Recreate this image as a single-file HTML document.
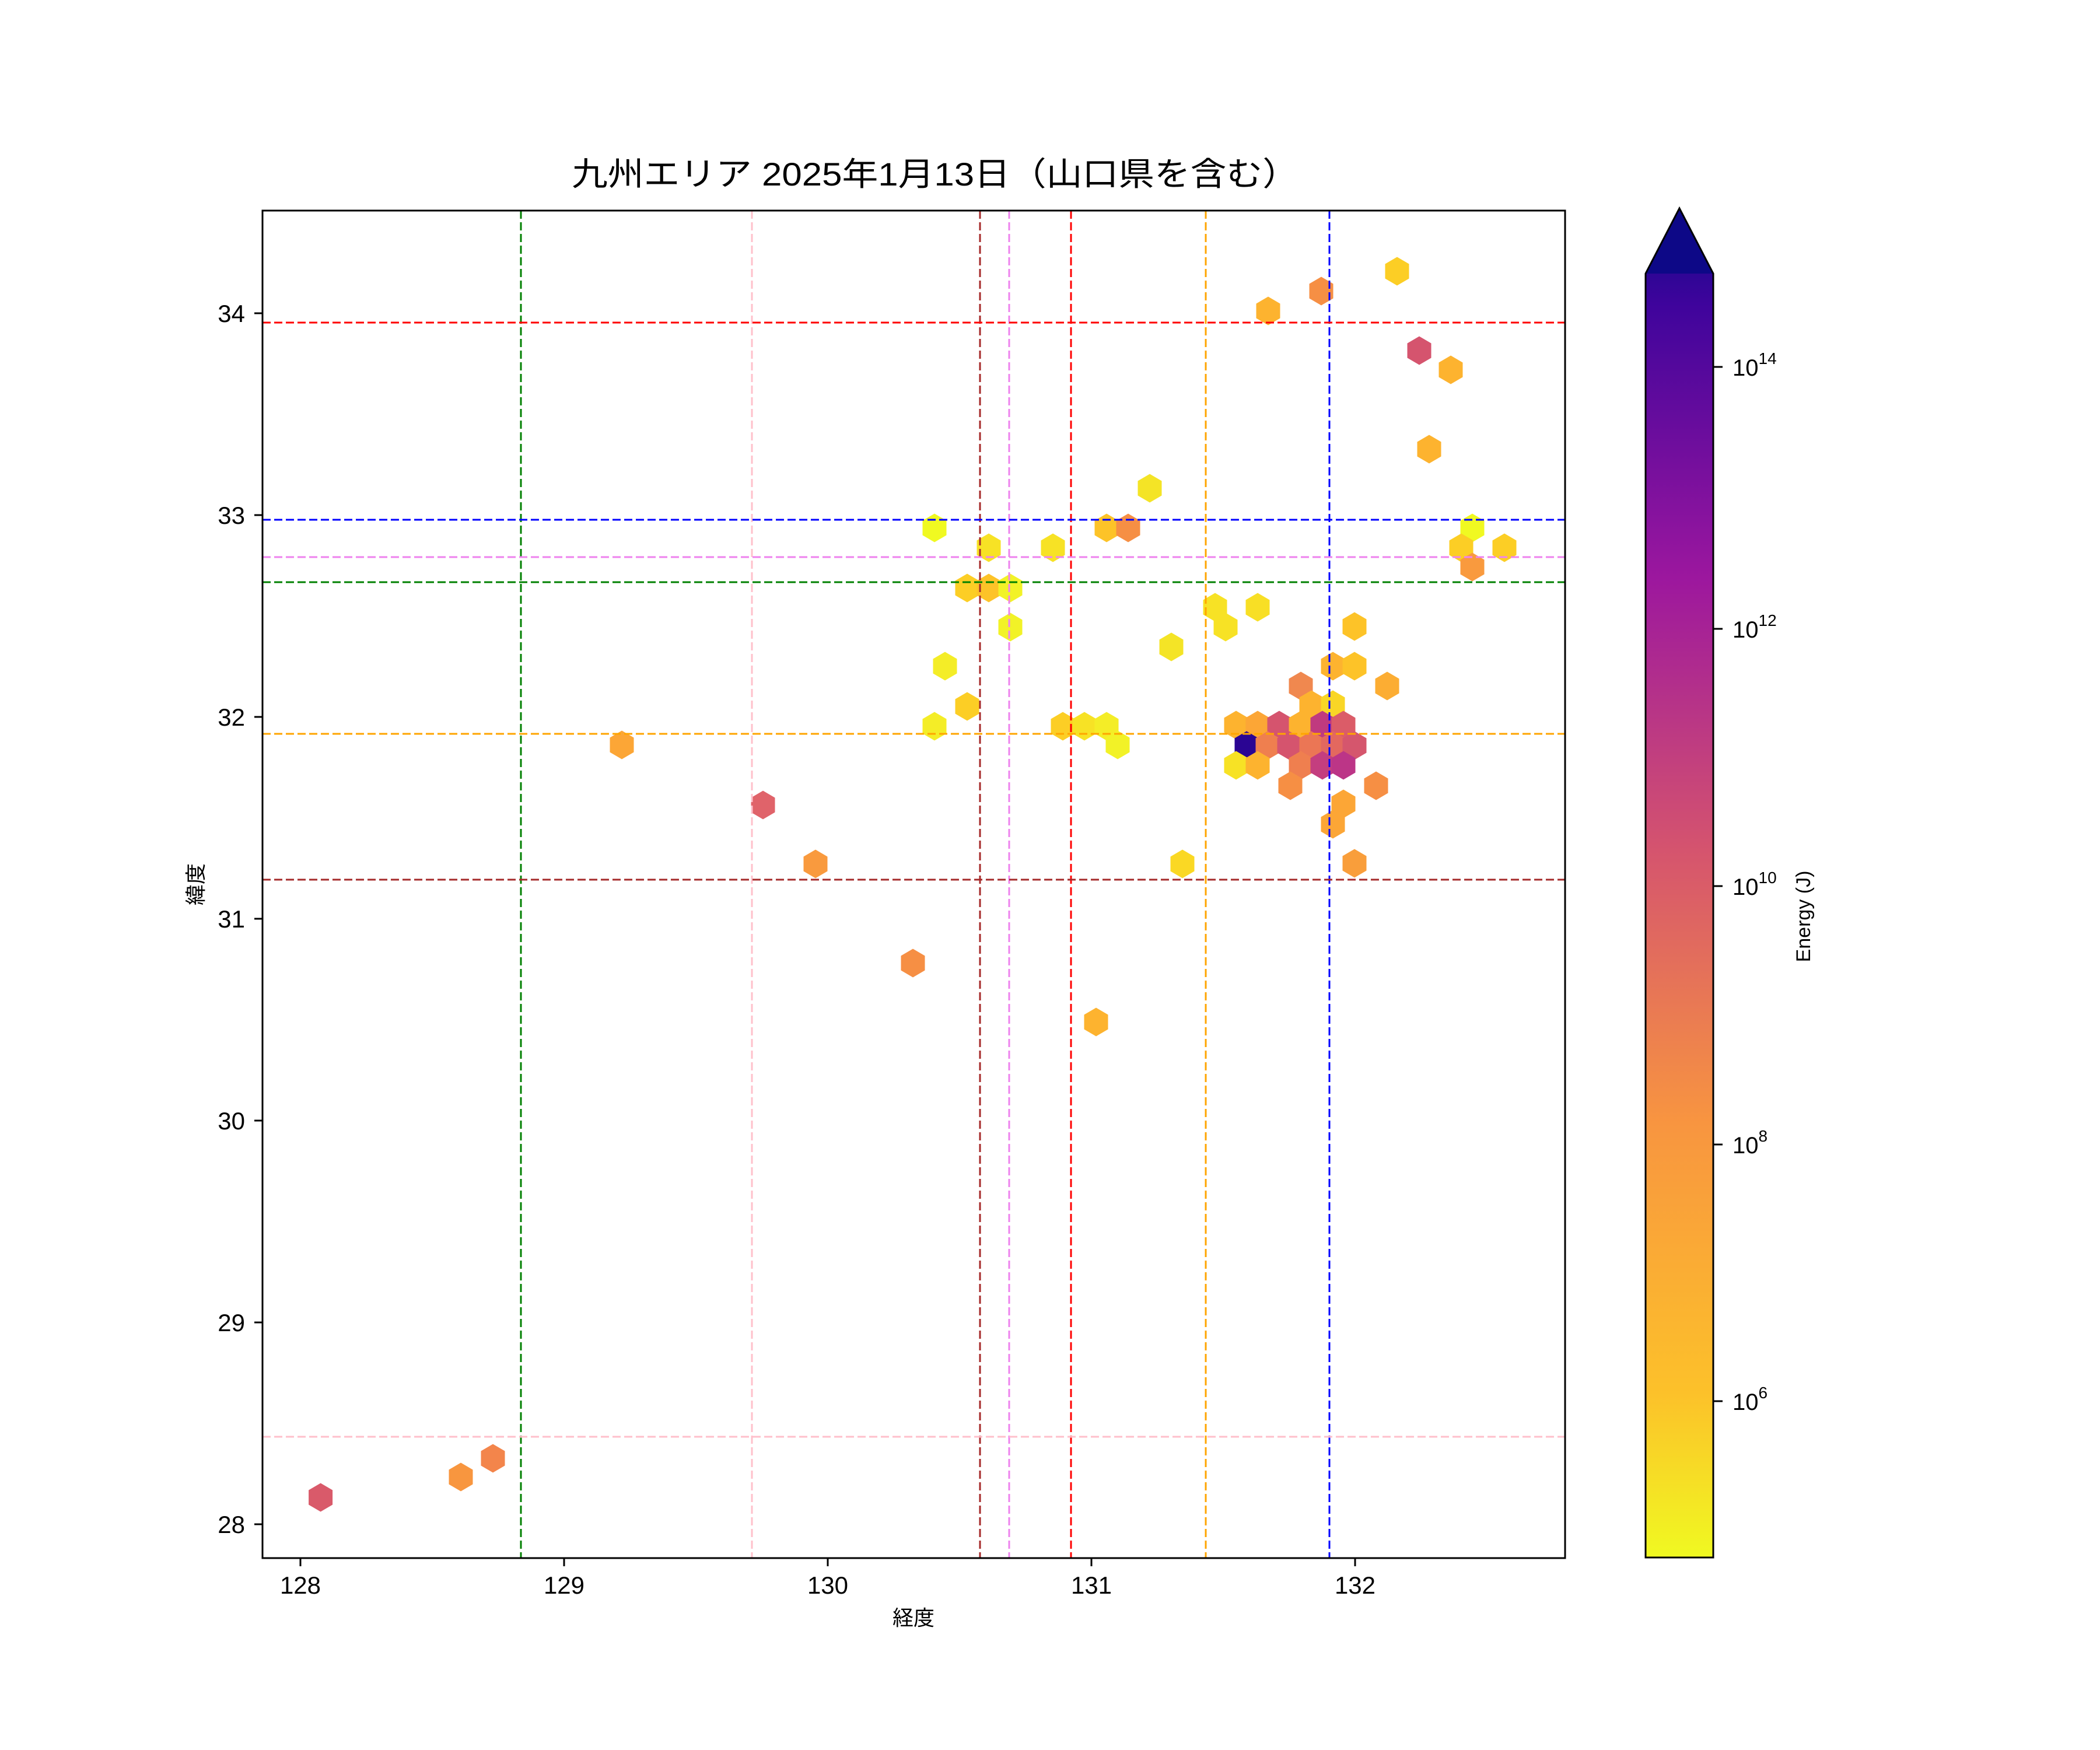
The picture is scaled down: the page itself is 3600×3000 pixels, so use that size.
<!DOCTYPE html>
<html><head><meta charset="utf-8"><style>
html,body{margin:0;padding:0;background:#fff}
svg{display:block}
text{font-family:"Liberation Sans","Noto Sans CJK JP",sans-serif;fill:#000}
</style></head><body>
<svg width="3600" height="3000" viewBox="0 0 3600 3000" xmlns="http://www.w3.org/2000/svg">
<defs>
<linearGradient id="plasma" x1="0" y1="1" x2="0" y2="0">
<stop offset="0" stop-color="#f0f921"/>
<stop offset="0.122" stop-color="#fcc12a"/>
<stop offset="0.322" stop-color="#f89540"/>
<stop offset="0.524" stop-color="#d5546e"/>
<stop offset="0.726" stop-color="#9c179e"/>
<stop offset="0.928" stop-color="#3f049c"/>
<stop offset="1" stop-color="#0d0887"/>
</linearGradient>
<polygon id="hx" points="0,-24.5 20.5,-12.5 20.5,12.5 0,24.5 -20.5,12.5 -20.5,-12.5"/>
</defs>
<rect width="3600" height="3000" fill="#fff"/>

<text x="980" y="318" font-size="56" textLength="1246" lengthAdjust="spacingAndGlyphs">九州エリア 2025年1月13日（山口県を含む）</text>

<g id="hexes">
<use href="#hx" x="549.6" y="2567" fill="#d95a6a"/>
<use href="#hx" x="790" y="2532" fill="#f8963f"/>
<use href="#hx" x="845" y="2500" fill="#f3854b"/>
<use href="#hx" x="1066" y="1277" fill="#fca636"/>
<use href="#hx" x="1308" y="1380" fill="#e0636a"/>
<use href="#hx" x="1398" y="1481" fill="#f99a3e"/>
<use href="#hx" x="1565" y="1651" fill="#f68f44"/>
<use href="#hx" x="1879" y="1752" fill="#fdb32f"/>
<use href="#hx" x="1602" y="905" fill="#f0f921"/>
<use href="#hx" x="1695" y="939" fill="#f7e225"/>
<use href="#hx" x="1658" y="1008" fill="#fcce25"/>
<use href="#hx" x="1695" y="1008" fill="#fdc328"/>
<use href="#hx" x="1732" y="1008" fill="#f2f227"/>
<use href="#hx" x="1732" y="1075" fill="#f2f227"/>
<use href="#hx" x="1620" y="1142" fill="#f4ed27"/>
<use href="#hx" x="1658" y="1211" fill="#fcce25"/>
<use href="#hx" x="1602" y="1245" fill="#f4ed27"/>
<use href="#hx" x="1805" y="939" fill="#f7e225"/>
<use href="#hx" x="1897" y="905" fill="#fdc328"/>
<use href="#hx" x="1934" y="905" fill="#f68f44"/>
<use href="#hx" x="1971" y="837" fill="#f4e426"/>
<use href="#hx" x="1822" y="1245" fill="#fcce25"/>
<use href="#hx" x="1859" y="1245" fill="#f7e225"/>
<use href="#hx" x="1897" y="1245" fill="#f4ed27"/>
<use href="#hx" x="1916" y="1277" fill="#f2f227"/>
<use href="#hx" x="2008" y="1109" fill="#f4e426"/>
<use href="#hx" x="2027" y="1481" fill="#fad824"/>
<use href="#hx" x="2083" y="1041" fill="#f7e225"/>
<use href="#hx" x="2101" y="1075" fill="#f7e225"/>
<use href="#hx" x="2156" y="1041" fill="#f8df25"/>
<use href="#hx" x="2174" y="533" fill="#fdb32f"/>
<use href="#hx" x="2265" y="499" fill="#f68f44"/>
<use href="#hx" x="2395" y="465" fill="#fcce25"/>
<use href="#hx" x="2433" y="601" fill="#d5546e"/>
<use href="#hx" x="2487" y="634" fill="#fdb32f"/>
<use href="#hx" x="2450" y="770" fill="#fdb32f"/>
<use href="#hx" x="2524" y="905" fill="#f0f921"/>
<use href="#hx" x="2505" y="939" fill="#fcce25"/>
<use href="#hx" x="2524" y="972" fill="#f99a3e"/>
<use href="#hx" x="2579" y="939" fill="#fcce25"/>
<use href="#hx" x="2322" y="1074" fill="#fdc328"/>
<use href="#hx" x="2285" y="1142" fill="#fdb32f"/>
<use href="#hx" x="2322" y="1142" fill="#fdc328"/>
<use href="#hx" x="2378" y="1176" fill="#fcad33"/>
<use href="#hx" x="2230" y="1176" fill="#f0884f"/>
<use href="#hx" x="2248" y="1208" fill="#fdb32f"/>
<use href="#hx" x="2285" y="1208" fill="#f9d626"/>
<use href="#hx" x="2119" y="1243" fill="#fdb32f"/>
<use href="#hx" x="2156" y="1243" fill="#fca636"/>
<use href="#hx" x="2193" y="1243" fill="#d5546e"/>
<use href="#hx" x="2230" y="1243" fill="#fdb32f"/>
<use href="#hx" x="2267" y="1243" fill="#c03a7f"/>
<use href="#hx" x="2303" y="1243" fill="#db5c68"/>
<use href="#hx" x="2137" y="1278" fill="#2a0593"/>
<use href="#hx" x="2173" y="1278" fill="#ef7f4f"/>
<use href="#hx" x="2210" y="1278" fill="#d5546e"/>
<use href="#hx" x="2248" y="1278" fill="#eb7655"/>
<use href="#hx" x="2285" y="1278" fill="#e3685f"/>
<use href="#hx" x="2322" y="1278" fill="#d5566d"/>
<use href="#hx" x="2119" y="1312" fill="#f7e225"/>
<use href="#hx" x="2156" y="1312" fill="#fdb32f"/>
<use href="#hx" x="2230" y="1312" fill="#ef7f4f"/>
<use href="#hx" x="2267" y="1312" fill="#c43e7f"/>
<use href="#hx" x="2303" y="1312" fill="#bc3587"/>
<use href="#hx" x="2212" y="1347" fill="#f68f44"/>
<use href="#hx" x="2359" y="1347" fill="#f68f44"/>
<use href="#hx" x="2303" y="1378" fill="#fca636"/>
<use href="#hx" x="2285" y="1413" fill="#fca636"/>
<use href="#hx" x="2322" y="1480" fill="#f99e3b"/>
</g>

<g stroke-width="3" stroke-dasharray="14,6" fill="none">
<line x1="893" y1="361" x2="893" y2="2671" stroke="green"/>
<line x1="1289" y1="361" x2="1289" y2="2671" stroke="pink"/>
<line x1="1680" y1="361" x2="1680" y2="2671" stroke="#a52a2a"/>
<line x1="1730" y1="361" x2="1730" y2="2671" stroke="violet"/>
<line x1="1836" y1="361" x2="1836" y2="2671" stroke="red"/>
<line x1="2067" y1="361" x2="2067" y2="2671" stroke="orange"/>
<line x1="2279" y1="361" x2="2279" y2="2671" stroke="blue"/>
<line x1="450" y1="553" x2="2683" y2="553" stroke="red"/>
<line x1="450" y1="891" x2="2683" y2="891" stroke="blue"/>
<line x1="450" y1="955" x2="2683" y2="955" stroke="violet"/>
<line x1="450" y1="998" x2="2683" y2="998" stroke="green"/>
<line x1="450" y1="1258" x2="2683" y2="1258" stroke="orange"/>
<line x1="450" y1="1508" x2="2683" y2="1508" stroke="#a52a2a"/>
<line x1="450" y1="2463" x2="2683" y2="2463" stroke="pink"/>
</g>

<rect x="450" y="361" width="2233" height="2310" fill="none" stroke="#000" stroke-width="3"/>

<g stroke="#000" stroke-width="3">
<line x1="515" y1="2671" x2="515" y2="2685"/>
<line x1="967" y1="2671" x2="967" y2="2685"/>
<line x1="1419" y1="2671" x2="1419" y2="2685"/>
<line x1="1871" y1="2671" x2="1871" y2="2685"/>
<line x1="2323" y1="2671" x2="2323" y2="2685"/>
<line x1="436" y1="537" x2="450" y2="537"/>
<line x1="436" y1="883" x2="450" y2="883"/>
<line x1="436" y1="1229" x2="450" y2="1229"/>
<line x1="436" y1="1575" x2="450" y2="1575"/>
<line x1="436" y1="1921" x2="450" y2="1921"/>
<line x1="436" y1="2267" x2="450" y2="2267"/>
<line x1="436" y1="2613" x2="450" y2="2613"/>
</g>
<g font-size="42" text-anchor="middle">
<text x="515" y="2732">128</text>
<text x="967" y="2732">129</text>
<text x="1419" y="2732">130</text>
<text x="1871" y="2732">131</text>
<text x="2323" y="2732">132</text>
</g>
<g font-size="42" text-anchor="end">
<text x="420" y="552">34</text>
<text x="420" y="898">33</text>
<text x="420" y="1244">32</text>
<text x="420" y="1590">31</text>
<text x="420" y="1936">30</text>
<text x="420" y="2282">29</text>
<text x="420" y="2628">28</text>
</g>
<text x="1566" y="2786" font-size="36" text-anchor="middle">経度</text>
<text transform="translate(348,1516) rotate(-90)" font-size="36" text-anchor="middle">緯度</text>

<polygon points="2821,2670 2821,469 2879,357 2937,469 2937,2670" fill="url(#plasma)"/>
<polygon points="2821,469 2879,357 2937,469" fill="#0d0887"/>
<polygon points="2821,2670 2821,469 2879,357 2937,469 2937,2670" fill="none" stroke="#000" stroke-width="3"/>
<g stroke="#000" stroke-width="3">
<line x1="2937" y1="629" x2="2953" y2="629"/>
<line x1="2937" y1="1078" x2="2953" y2="1078"/>
<line x1="2937" y1="1519" x2="2953" y2="1519"/>
<line x1="2937" y1="1962" x2="2953" y2="1962"/>
<line x1="2937" y1="2402" x2="2953" y2="2402"/>
</g>
<g font-size="40">
<text x="2970" y="644">10<tspan font-size="28" dy="-20">14</tspan></text>
<text x="2970" y="1093">10<tspan font-size="28" dy="-20">12</tspan></text>
<text x="2970" y="1534">10<tspan font-size="28" dy="-20">10</tspan></text>
<text x="2970" y="1977">10<tspan font-size="28" dy="-20">8</tspan></text>
<text x="2970" y="2417">10<tspan font-size="28" dy="-20">6</tspan></text>
</g>
<text transform="translate(3103,1571) rotate(-90)" font-size="34" text-anchor="middle">Energy (J)</text>
</svg>
</body></html>
